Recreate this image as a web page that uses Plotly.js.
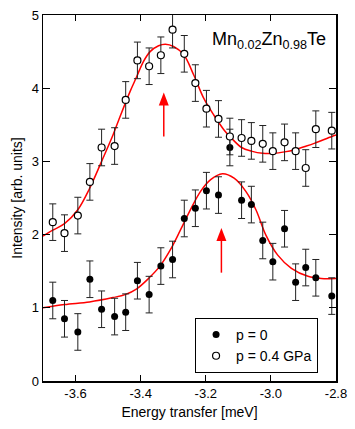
<!DOCTYPE html>
<html>
<head>
<meta charset="utf-8">
<script src="https://cdn.plot.ly/plotly-3.0.1.min.js"></script>
<style>
  html, body { margin: 0; padding: 0; background: #fff; }
  #plot { width: 355px; height: 429px; }
</style>
</head>
<body>
<div id="plot"></div>
<script>
// energy transfer (meV) of the measured points
const energy = [-3.670, -3.634, -3.593, -3.556, -3.520, -3.480, -3.446, -3.410, -3.374, -3.338,
  -3.302, -3.266, -3.232, -3.198, -3.161, -3.126, -3.090, -3.060, -3.025, -2.994,
  -2.958, -2.924, -2.893, -2.862, -2.813];

// p = 0 (filled)
const intensityP0 = [1.10, 0.85, 0.67, 1.39, 0.98, 0.88, 0.94, 1.37, 1.18, 1.57,
  1.66, 2.22, 2.36, 2.60, 2.54, 3.19, 2.47, 2.41, 1.92, 1.63,
  2.08, 1.35, 1.55, 1.41, 1.16];
const errorP0 = [0.25, 0.25, 0.25, 0.25, 0.25, 0.25, 0.25, 0.25, 0.25, 0.25,
  0.25, 0.25, 0.25, 0.25, 0.25, 0.25, 0.25, 0.25, 0.25, 0.25,
  0.25, 0.25, 0.25, 0.25, 0.25];

// p = 0.4 GPa (open)
const intensityP04 = [2.17, 2.02, 2.26, 2.72, 3.19, 3.21, 3.84, 4.38, 4.30, 4.45,
  4.80, 4.47, 4.07, 3.72, 3.58, 3.34, 3.32, 3.28, 3.24, 3.14,
  3.26, 3.14, 2.91, 3.44, 3.42];
const errorP04 = [0.25, 0.25, 0.25, 0.25, 0.25, 0.25, 0.25, 0.25, 0.25, 0.25,
  0.25, 0.25, 0.25, 0.25, 0.25, 0.25, 0.25, 0.25, 0.25, 0.25,
  0.25, 0.25, 0.25, 0.25, 0.25];

// fitted curves
const fitEnergyP0 = [-3.70, -3.634, -3.557, -3.485, -3.448, -3.412, -3.376, -3.339, -3.309, -3.278,
  -3.247, -3.216, -3.185, -3.149, -3.113, -3.077, -3.046, -3.015, -2.979, -2.937,
  -2.886, -2.845, -2.80];
const fitP0 = [1.00, 1.045, 1.08, 1.14, 1.18, 1.26, 1.40, 1.58, 1.79, 2.06,
  2.34, 2.59, 2.75, 2.83, 2.77, 2.59, 2.34, 1.99, 1.72, 1.54,
  1.43, 1.40, 1.40];

const fitEnergyP04 = [-3.70, -3.670, -3.634, -3.593, -3.557, -3.520, -3.485, -3.467, -3.433, -3.412,
  -3.392, -3.371, -3.345, -3.324, -3.299, -3.268, -3.237, -3.206, -3.175, -3.144,
  -3.126, -3.090, -3.060, -3.025, -2.990, -2.958, -2.927, -2.891, -2.865, -2.813, -2.80];
const fitP04 = [1.98, 2.06, 2.15, 2.34, 2.63, 3.00, 3.36, 3.57, 3.95, 4.16,
  4.36, 4.50, 4.58, 4.60, 4.57, 4.46, 4.18, 3.86, 3.63, 3.43,
  3.34, 3.19, 3.14, 3.11, 3.11, 3.13, 3.16, 3.21, 3.25, 3.34, 3.36];

// axis ticks (plain hyphen minus, as in the figure)
const xTicks = [-3.6, -3.4, -3.2, -3.0, -2.8];
const xTickLabels = ['-3.6', '-3.4', '-3.2', '-3.0', '-2.8'];
const yTicks = [0, 1, 2, 3, 4, 5];

// peak arrows: x, tip, tail
const arrowX = [-3.329, -3.152];
const arrowTip = [3.94, 2.09];
const arrowTail = [3.34, 1.48];

const FONT = 'Liberation Sans, Arial, Helvetica, sans-serif';
const RED = '#ff0000';

function points(y, err, name, filled) {
  return {
    type: 'scatter',
    mode: 'markers',
    x: energy,
    y: y,
    name: name,
    error_y: { type: 'data', array: err, visible: true, color: '#222', thickness: 1, width: 3.5 },
    marker: {
      symbol: 'circle',
      size: 7,
      color: filled ? '#000' : '#fff',
      line: { color: '#000', width: filled ? 0 : 1.2 }
    }
  };
}

function fit(x, y) {
  return {
    type: 'scatter',
    mode: 'lines',
    x: x,
    y: y,
    showlegend: false,
    hoverinfo: 'skip',
    line: { color: RED, width: 1.5, shape: 'spline', smoothing: 1 }
  };
}

const data = [
  fit(fitEnergyP04, fitP04),
  fit(fitEnergyP0, fitP0),
  points(intensityP0, errorP0, 'p = 0', true),
  points(intensityP04, errorP04, 'p = 0.4 GPa', false)
];

const shapes = [];
arrowX.forEach((x, i) => {
  shapes.push({
    type: 'line', xref: 'x', yref: 'y',
    x0: x, x1: x, y0: arrowTail[i], y1: arrowTip[i] - 0.1,
    line: { color: RED, width: 1.5 }
  });
  shapes.push({
    type: 'path', xref: 'x', yref: 'y',
    xsizemode: 'pixel', ysizemode: 'pixel',
    xanchor: x, yanchor: arrowTip[i],
    path: 'M-5,-13 L5,-13 L0,0 Z',
    fillcolor: RED,
    line: { color: RED, width: 0 }
  });
});

const axisCommon = {
  showgrid: false,
  zeroline: false,
  showline: true,
  linecolor: '#000',
  linewidth: 1.5,
  mirror: 'ticks',
  ticks: 'inside',
  tickcolor: '#000',
  tickwidth: 1,
  tickfont: { family: FONT, size: 13, color: '#000' }
};

const layout = {
  width: 355,
  height: 429,
  margin: { l: 43, r: 19, t: 15, b: 48 },
  paper_bgcolor: '#fff',
  plot_bgcolor: '#fff',
  font: { family: FONT, color: '#000' },
  xaxis: Object.assign({}, axisCommon, {
    range: [-3.7, -2.8],
    tickmode: 'array',
    tickvals: xTicks,
    ticktext: xTickLabels,
    ticklen: 6,
    title: { text: 'Energy transfer [meV]', font: { family: FONT, size: 14, color: '#000' }, standoff: 7 }
  }),
  yaxis: Object.assign({}, axisCommon, {
    range: [0, 5],
    tickmode: 'array',
    tickvals: yTicks,
    ticklen: 7,
    title: { text: 'Intensity [arb. units]', font: { family: FONT, size: 14, color: '#000' }, standoff: 6 }
  }),
  legend: {
    x: 0.519,
    y: 0.022,
    xanchor: 'left',
    yanchor: 'bottom',
    bgcolor: '#fff',
    bordercolor: '#000',
    borderwidth: 1,
    font: { family: FONT, size: 14, color: '#000' }
  },
  annotations: [{
    xref: 'paper', yref: 'paper',
    x: 0.972, y: 0.968,
    xanchor: 'right', yanchor: 'top',
    showarrow: false,
    text: 'Mn<sub>0.02</sub>Zn<sub>0.98</sub>Te',
    font: { family: FONT, size: 18, color: '#000' }
  }],
  shapes: shapes
};

Plotly.newPlot('plot', data, layout, { staticPlot: true, displayModeBar: false });
</script>
</body>
</html>
